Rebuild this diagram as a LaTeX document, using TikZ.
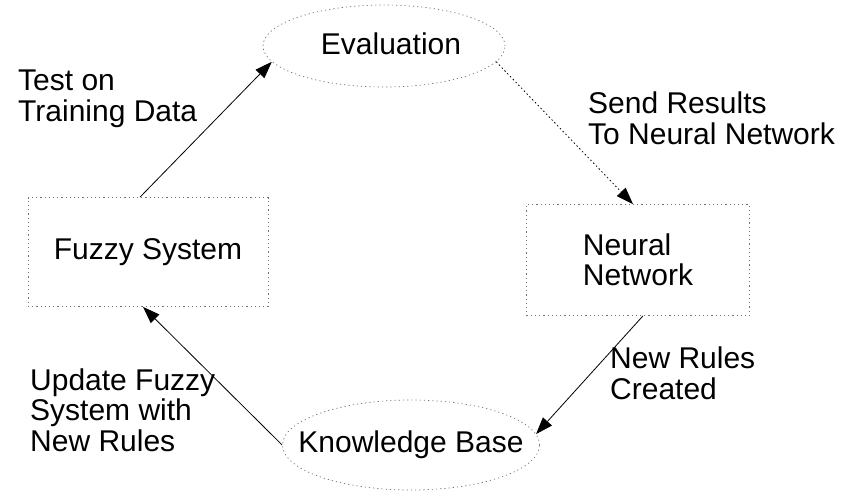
\documentclass[tikz,border=0pt]{standalone}
\usepackage{fontspec}
\setmainfont{Liberation Sans}
\usetikzlibrary{arrows.meta,shapes.geometric}
\begin{document}
\begin{tikzpicture}[x=1pt,y=-1pt,
  every node/.style={font=\fontsize{30}{30.5}\selectfont},
  outline/.style={draw=black!55, line width=0.7pt, dash pattern=on 1.2pt off 3pt},
  oval/.style={outline, ellipse, inner sep=0pt},
  panel/.style={outline, rectangle, inner sep=0pt},
  caption/.style={inner sep=0pt},
  flow/.style={draw=black, line width=0.8pt, -{Triangle[length=17pt,width=12pt]}},
  faintflow/.style={flow, dash pattern=on 1.5pt off 2.5pt},
  note/.style={align=left, anchor=base west, inner sep=0pt}]
\useasboundingbox (0,0) rectangle (853,499);

% stages of the loop (ovals are sized explicitly, their texts sit on top)
\node[oval, minimum width=242, minimum height=82] (eval) at (384,46) {};
\node[caption] (evaltext) at (391,44) {Evaluation};
\node[panel, minimum width=240, minimum height=109] (fuzzy) at (148,252) {Fuzzy System};
\node[panel, minimum width=223, minimum height=111, align=left] (neural) at (638,260) {Neural\\Network};
\node[oval, minimum width=257, minimum height=90] (kb) at (411,445) {};
\node[caption] (kbtext) at (kb.center) {Knowledge Base};

% connectors
\draw[flow] ([xshift=-8pt]fuzzy.north) -- (eval.188);
\draw[faintflow] (eval.-8) -- ([xshift=-5pt]neural.north);
\draw[flow] ([xshift=5pt]neural.south) -- (kb.5);
\draw[flow] (kb.west) -- ([xshift=-5pt]fuzzy.south);

% connector labels (anchored at the baseline of their last line)
\node[note] (ltest) at (18,121) {Test on\\Training Data};
\node[note] (lsend) at (588,144) {Send Results\\To Neural Network};
\node[note] (lnew) at (610,399) {New Rules\\Created};
\node[note] (lupd) at (30,451) {Update Fuzzy\\System with\\New Rules};
\end{tikzpicture}
\end{document}
